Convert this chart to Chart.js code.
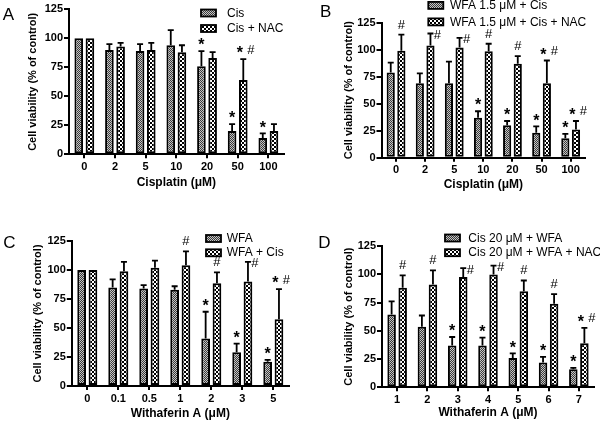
<!DOCTYPE html>
<html>
<head>
<meta charset="utf-8">
<script src="https://cdn.jsdelivr.net/npm/chart.js@4.4.0/dist/chart.umd.min.js"></script>
<style>
  html, body { margin: 0; padding: 0; background: #fff; }
  #wrap { position: relative; width: 600px; height: 422px; overflow: hidden; }
  .panel { position: absolute; width: 300px; height: 211px; }
</style>
</head>
<body>
<div id="wrap">
  <div class="panel" style="left:0;top:0"><canvas id="chartA" width="300" height="211"></canvas></div>
  <div class="panel" style="left:300px;top:0"><canvas id="chartB" width="300" height="211"></canvas></div>
  <div class="panel" style="left:0;top:211px"><canvas id="chartC" width="300" height="211"></canvas></div>
  <div class="panel" style="left:300px;top:211px"><canvas id="chartD" width="300" height="211"></canvas></div>
</div>
<script>
// panel A
const doseA = ['0', '2', '5', '10', '20', '50', '100'];
const cisA = [100, 90, 89, 94, 76, 20, 14];
const cisErrA = [0, 5, 6, 13, 13, 6, 4];
const cisMarkA = ['', '', '', '', '*', '*', '*'];
const nacA = [100, 93, 90, 88, 83, 64, 20];
const nacErrA = [0, 3, 6, 6, 5, 18, 6];
const nacMarkA = ['', '', '', '', '', '*#', ''];

// panel B
const doseB = ['0', '2', '5', '10', '20', '50', '100'];
const wfaCisB = [79, 69, 69, 37, 30, 23, 18];
const wfaCisErrB = [9, 9, 20, 6, 4, 6, 4];
const wfaCisMarkB = ['', '', '', '*', '*', '*', '*'];
const wfaNacB = [99, 104, 102, 98.5, 87, 69, 26];
const wfaNacErrB = [15, 11, 9, 7, 7, 21, 8];
const wfaNacMarkB = ['#', '#>', '#>', '#', '#', '*#', '*#'];

// panel C
const doseC = ['0', '0.1', '0.5', '1', '2', '3', '5'];
const wfaC = [100, 85, 84, 83, 41, 29, 21];
const wfaErrC = [0, 7, 3, 3, 23, 7.5, 1.5];
const wfaMarkC = ['', '', '', '', '*', '*', '*'];
const wfaCisC = [100, 99, 102, 104, 88.5, 90, 57.5];
const wfaCisErrC = [0, 8, 6, 12, 9.5, 17, 26];
const wfaCisMarkC = ['', '', '', '#', '#', '#>', '*#'];

// panel D
const doseD = ['1', '2', '3', '4', '5', '6', '7'];
const cisWfaD = [64.5, 53.5, 37, 37, 26, 22, 16];
const cisWfaErrD = [11.5, 10, 7.5, 7, 4, 5, 1.2];
const cisWfaMarkD = ['', '', '*', '*', '*', '*', '*'];
const cisNacD = [88, 91, 97.5, 99.7, 85, 74, 39];
const cisNacErrD = [11, 12.5, 8, 8, 9.5, 8.5, 13.5];
const cisNacMarkD = ['#', '#', '#>', '#>', '#', '#', '*#'];

const FONT = '"Liberation Sans", Arial, Helvetica, sans-serif';
Chart.defaults.font.family = FONT;
Chart.defaults.color = '#000';

function grayPattern() {
  const c = document.createElement('canvas');
  c.width = 2; c.height = 2;
  const g = c.getContext('2d');
  g.fillStyle = '#c4c4c4';
  g.fillRect(0, 0, 2, 2);
  g.fillStyle = '#3a3a3a';
  g.fillRect(0, 0, 1, 1);
  g.fillRect(1, 1, 1, 1);
  return g.createPattern(c, 'repeat');
}

function checkPattern() {
  const c = document.createElement('canvas');
  c.width = 4; c.height = 4;
  const g = c.getContext('2d');
  g.fillStyle = '#fff';
  g.fillRect(0, 0, 4, 4);
  g.fillStyle = '#000';
  g.fillRect(0, 0, 2, 2);
  g.fillRect(2, 2, 2, 2);
  return g.createPattern(c, 'repeat');
}

const gray = grayPattern();
const check = checkPattern();

function drawStar(ctx, x, yc) {
  ctx.font = 'bold 16px ' + FONT;
  ctx.textAlign = 'center';
  ctx.textBaseline = 'alphabetic';
  ctx.fillText('*', x, yc + 9.2);
}

function drawHash(ctx, x, yc) {
  ctx.font = '13px ' + FONT;
  ctx.textAlign = 'center';
  ctx.textBaseline = 'alphabetic';
  ctx.fillText('#', x, yc + 4.5);
}

function drawMark(ctx, m, x, top) {
  if (m === '*') drawStar(ctx, x, top - 10);
  else if (m === '#') drawHash(ctx, x, top - 10.5);
  else if (m === '#>') drawHash(ctx, x + 7, top + 1);
  else if (m === '*#') {
    drawStar(ctx, x - 3.5, top - 10);
    drawHash(ctx, x + 7.5, top - 10);
  }
}

// error bars, significance marks, legend and panel letter
function extras(o) {
  return {
    id: 'extras',
    afterDatasetsDraw(chart) {
      const ctx = chart.ctx;
      const y = chart.scales.y;
      ctx.save();
      ctx.strokeStyle = '#000';
      ctx.fillStyle = '#000';
      ctx.lineWidth = 1.8;
      chart.data.datasets.forEach(function(ds, i) {
        chart.getDatasetMeta(i).data.forEach(function(bar, j) {
          const err = ds.errors[j];
          let top = bar.y;
          if (err > 0) {
            top = y.getPixelForValue(ds.data[j] + err);
            ctx.beginPath();
            ctx.moveTo(bar.x, bar.y);
            ctx.lineTo(bar.x, top);
            ctx.moveTo(bar.x - 3, top);
            ctx.lineTo(bar.x + 3, top);
            ctx.stroke();
          }
          drawMark(ctx, ds.marks[j], bar.x, top);
        });
      });
      ctx.restore();
    },
    afterDraw(chart) {
      const ctx = chart.ctx;
      const L = o.legend;
      ctx.save();
      chart.data.datasets.forEach(function(ds, i) {
        const by = L.y + i * L.gap;
        ctx.fillStyle = ds.backgroundColor;
        ctx.fillRect(L.x, by, 15, 7);
        ctx.lineWidth = 1.8;
        ctx.strokeStyle = '#000';
        ctx.strokeRect(L.x, by, 15, 7);
        ctx.fillStyle = '#000';
        ctx.font = '12px ' + FONT;
        ctx.textAlign = 'left';
        ctx.textBaseline = 'middle';
        ctx.fillText(ds.label, L.x + L.tx, by + 3.8);
      });
      ctx.font = '17px ' + FONT;
      ctx.textAlign = 'left';
      ctx.textBaseline = 'alphabetic';
      ctx.fillText(o.letter, o.letterX, o.letterY);
      ctx.restore();
    }
  };
}

function makePanel(id, o) {
  const tickFont = { family: FONT, size: 11, weight: 'bold' };
  new Chart(document.getElementById(id), {
    type: 'bar',
    data: {
      labels: o.labels,
      datasets: [
        { label: o.names[0], data: o.s1, errors: o.e1, marks: o.m1, backgroundColor: gray },
        { label: o.names[1], data: o.s2, errors: o.e2, marks: o.m2, backgroundColor: check }
      ]
    },
    options: {
      responsive: false,
      animation: false,
      layout: { padding: o.pad },
      datasets: {
        bar: {
          borderColor: '#000',
          borderWidth: 2,
          borderSkipped: false,
          categoryPercentage: 0.73,
          barPercentage: 0.77
        }
      },
      plugins: {
        legend: { display: false },
        tooltip: { enabled: false }
      },
      scales: {
        x: {
          grid: { drawOnChartArea: false, offset: false, tickLength: 4, color: '#000', lineWidth: 2 },
          border: { color: '#000', width: 2 },
          ticks: { color: '#000', font: tickFont, padding: 2, maxRotation: 0, autoSkip: false },
          title: { display: true, text: o.xTitle, color: '#000', font: { family: FONT, size: 12, weight: 'bold' }, padding: 0 },
          afterFit: function(s) { s.height = o.xH; }
        },
        y: {
          min: 0,
          max: 125,
          grid: { drawOnChartArea: false, tickLength: 5, color: '#000', lineWidth: 2 },
          border: { color: '#000', width: 2 },
          ticks: { stepSize: 25, color: '#000', font: tickFont, padding: 1 },
          title: { display: true, text: 'Cell viability (% of control)', color: '#000', font: { family: FONT, size: 11, weight: 'bold' }, padding: { top: 4, bottom: 4 } },
          afterFit: function(s) { s.width = o.yW; }
        }
      }
    },
    plugins: [extras(o)]
  });
}

makePanel('chartA', {
  labels: doseA, names: ['Cis', 'Cis + NAC'],
  s1: cisA, e1: cisErrA, m1: cisMarkA,
  s2: nacA, e2: nacErrA, m2: nacMarkA,
  xTitle: 'Cisplatin (\u03BCM)',
  pad: { left: 22.4, top: 9.3, right: 16.3, bottom: 20.8 }, yW: 46.6, xH: 35.9,
  legend: { x: 201, y: 9.5, gap: 15.5, tx: 26 },
  letter: 'A', letterX: 2.7, letterY: 20
});

makePanel('chartB', {
  labels: doseB, names: ['WFA 1.5 \u03BCM + Cis', 'WFA 1.5 \u03BCM + Cis + NAC'],
  s1: wfaCisB, e1: wfaCisErrB, m1: wfaCisMarkB,
  s2: wfaNacB, e2: wfaNacErrB, m2: wfaNacMarkB,
  xTitle: 'Cisplatin (\u03BCM)',
  pad: { left: 38.7, top: 22.7, right: 14.8, bottom: 18.8 }, yW: 42.8, xH: 34.5,
  legend: { x: 128.3, y: 1.9, gap: 16.5, tx: 21.7 },
  letter: 'B', letterX: 20, letterY: 16.7
});

makePanel('chartC', {
  labels: doseC, names: ['WFA', 'WFA + Cis'],
  s1: wfaC, e1: wfaErrC, m1: wfaMarkC,
  s2: wfaCisC, e2: wfaCisErrC, m2: wfaCisMarkC,
  xTitle: 'Withaferin A (\u03BCM)',
  pad: { left: 27.1, top: 30, right: 11.2, bottom: 0.8 }, yW: 44.7, xH: 35.2,
  legend: { x: 206, y: 24, gap: 14.3, tx: 20.7 },
  letter: 'C', letterX: 3.3, letterY: 37
});

makePanel('chartD', {
  labels: doseD, names: ['Cis 20 \u03BCM + WFA', 'Cis 20 \u03BCM + WFA + NAC'],
  s1: cisWfaD, e1: cisWfaErrD, m1: cisWfaMarkD,
  s2: cisNacD, e2: cisNacErrD, m2: cisNacMarkD,
  xTitle: 'Withaferin A (\u03BCM)',
  pad: { left: 38.7, top: 35, right: 6, bottom: 1.8 }, yW: 43.3, xH: 32.9,
  legend: { x: 145, y: 23.5, gap: 14.7, tx: 23.3 },
  letter: 'D', letterX: 18.3, letterY: 37
});
</script>
</body>
</html>
